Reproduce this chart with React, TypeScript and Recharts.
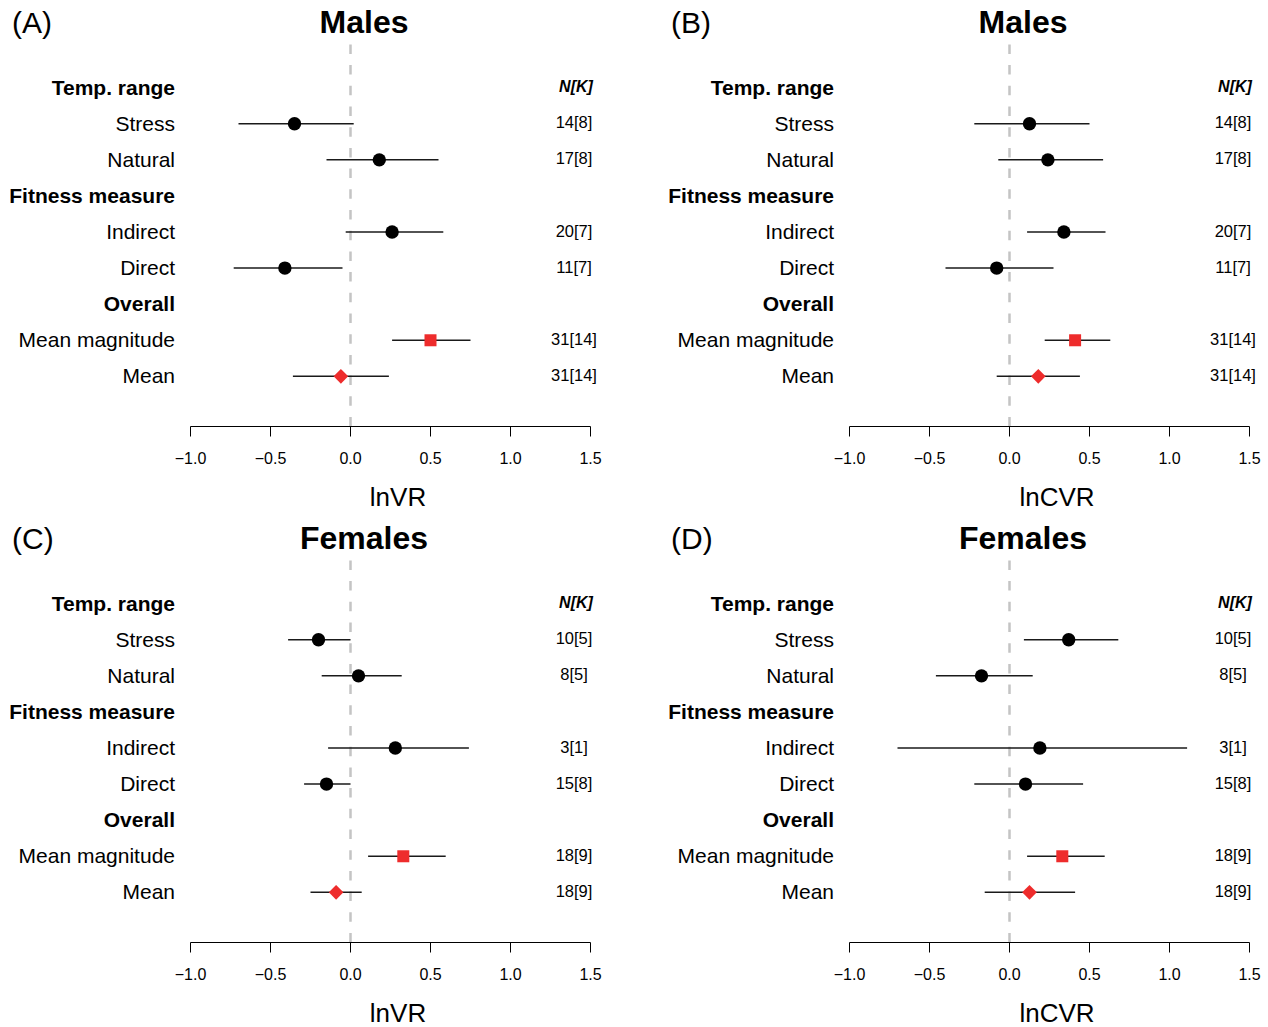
import React from "react";
import {
  ScatterChart,
  Scatter,
  XAxis,
  YAxis,
  ErrorBar,
  ReferenceLine,
  Customized,
} from "recharts";

// row layout shared by every panel
const rowLabels = [
  "Temp. range",
  "Stress",
  "Natural",
  "Fitness measure",
  "Indirect",
  "Direct",
  "Overall",
  "Mean magnitude",
  "Mean",
];
const headerRows = [0, 3, 6];
const estimateRows = [1, 2, 4, 5, 7, 8];
const markerKinds = ["circle", "circle", "circle", "circle", "square", "diamond"];
const xTicks = [-1, -0.5, 0, 0.5, 1, 1.5];

// (A) males lnVR
const malesLnVREst = [-0.35, 0.18, 0.26, -0.41, 0.5, -0.06];
const malesLnVRLow = [-0.7, -0.15, -0.03, -0.73, 0.26, -0.36];
const malesLnVRHigh = [0.02, 0.55, 0.58, -0.05, 0.75, 0.24];
// (B) males lnCVR
const malesLnCVREst = [0.125, 0.24, 0.34, -0.08, 0.41, 0.18];
const malesLnCVRLow = [-0.22, -0.07, 0.11, -0.4, 0.22, -0.08];
const malesLnCVRHigh = [0.5, 0.585, 0.6, 0.275, 0.63, 0.44];
const malesNK = ["14[8]", "17[8]", "20[7]", "11[7]", "31[14]", "31[14]"];
// (C) females lnVR
const femalesLnVREst = [-0.2, 0.05, 0.28, -0.15, 0.33, -0.09];
const femalesLnVRLow = [-0.39, -0.18, -0.14, -0.29, 0.11, -0.25];
const femalesLnVRHigh = [0.0, 0.32, 0.74, 0.0, 0.595, 0.07];
// (D) females lnCVR
const femalesLnCVREst = [0.37, -0.175, 0.19, 0.1, 0.33, 0.125];
const femalesLnCVRLow = [0.09, -0.46, -0.7, -0.22, 0.11, -0.155];
const femalesLnCVRHigh = [0.68, 0.145, 1.11, 0.46, 0.595, 0.41];
const femalesNK = ["10[5]", "8[5]", "3[1]", "15[8]", "18[9]", "18[9]"];

const RED = "#EE2C2C";
const FONT = "'Liberation Sans', Arial, Helvetica, sans-serif";

function buildRows(est: number[], lo: number[], hi: number[]) {
  return est.map((e, i) => ({
    row: estimateRows[i],
    est: e,
    err: [e - lo[i], hi[i] - e],
    kind: markerKinds[i],
  }));
}

const fmtTick = (v: number) =>
  (v < 0 ? "\u2212" : "") + Math.abs(v).toFixed(1);

const Marker = (props: any) => {
  const { cx, cy, payload } = props;
  if (payload.kind === "square") {
    return <rect x={cx - 6} y={cy - 6} width={12} height={12} fill={RED} />;
  }
  if (payload.kind === "diamond") {
    const d = 7.3;
    return (
      <polygon
        points={`${cx},${cy - d} ${cx + d},${cy} ${cx},${cy + d} ${cx - d},${cy}`}
        fill={RED}
      />
    );
  }
  return <circle cx={cx} cy={cy} r={6.7} fill="#000" />;
};

const RowTick = (props: any) => {
  const { y, payload, nk } = props;
  const row = payload.value as number;
  const isHeader = headerRows.includes(row);
  const idx = estimateRows.indexOf(row);
  return (
    <g>
      <text
        x={175}
        y={y + 7}
        textAnchor="end"
        fontSize={21}
        fontWeight={isHeader ? "bold" : "normal"}
        fill="#000"
        fontFamily={FONT}
      >
        {rowLabels[row]}
      </text>
      {row === 0 && (
        <text
          x={576}
          y={y + 4}
          textAnchor="middle"
          fontSize={16}
          fontWeight="bold"
          fontStyle="italic"
          fill="#000"
          fontFamily={FONT}
        >
          N[K]
        </text>
      )}
      {idx >= 0 && (
        <text
          x={574}
          y={y + 4.5}
          textAnchor="middle"
          fontSize={16.5}
          fill="#000"
          fontFamily={FONT}
        >
          {nk[idx]}
        </text>
      )}
    </g>
  );
};

interface PanelProps {
  letter: string;
  title: string;
  xlabel: string;
  est: number[];
  lo: number[];
  hi: number[];
  nk: string[];
  left: number;
  top: number;
}

const Panel: React.FC<PanelProps> = ({ letter, title, xlabel, est, lo, hi, nk, left, top }) => {
  const rows = buildRows(est, lo, hi);
  return (
    <div style={{ position: "absolute", left, top }}>
      <ScatterChart
        width={620}
        height={516}
        margin={{ top: 39, right: 29.5, bottom: 0, left: 0 }}
        style={{ fontFamily: FONT }}
      >
        <XAxis
          type="number"
          dataKey="est"
          domain={[-1, 1.5]}
          ticks={xTicks}
          interval={0}
          tickFormatter={fmtTick}
          tickSize={10}
          tickMargin={16}
          height={89.5}
          axisLine={{ stroke: "#000" }}
          tickLine={{ stroke: "#000" }}
          tick={{ fontSize: 16, fill: "#000" }}
          allowDataOverflow
        />
        <YAxis
          type="number"
          dataKey="row"
          domain={[-1.35, 9.39]}
          reversed
          ticks={[0, 1, 2, 3, 4, 5, 6, 7, 8]}
          interval={0}
          width={190.5}
          axisLine={false}
          tickLine={false}
          tick={(p: any) => <RowTick {...p} nk={nk} />}
          allowDataOverflow
        />
        <ReferenceLine
          x={0}
          stroke="#c4c4c4"
          strokeWidth={2.5}
          strokeDasharray="9.5 11.2"
        />
        <Scatter data={rows} shape={Marker} isAnimationActive={false}>
          <ErrorBar
            dataKey="err"
            direction="x"
            width={0}
            stroke="#1a1a1a"
            strokeWidth={1.5}
          />
        </Scatter>
        <Customized
          component={() => (
            <g fontFamily={FONT} fill="#000">
              <text x={12} y={33} fontSize={30}>
                {letter}
              </text>
              <text x={364} y={33} fontSize={32} fontWeight="bold" textAnchor="middle">
                {title}
              </text>
              <text x={398} y={506} fontSize={26} textAnchor="middle">
                {xlabel}
              </text>
            </g>
          )}
        />
      </ScatterChart>
    </div>
  );
}

export default function App() {
  return (
    <div
      style={{
        position: "absolute",
        left: 0,
        top: 0,
        width: 1268,
        height: 1027,
        overflow: "hidden",
        background: "#fff",
      }}
    >
      <Panel letter="(A)" title="Males" xlabel="lnVR" est={malesLnVREst} lo={malesLnVRLow} hi={malesLnVRHigh} nk={malesNK} left={0} top={0} />
      <Panel letter="(B)" title="Males" xlabel="lnCVR" est={malesLnCVREst} lo={malesLnCVRLow} hi={malesLnCVRHigh} nk={malesNK} left={658.5} top={0} />
      <Panel letter="(C)" title="Females" xlabel="lnVR" est={femalesLnVREst} lo={femalesLnVRLow} hi={femalesLnVRHigh} nk={femalesNK} left={0} top={516} />
      <Panel letter="(D)" title="Females" xlabel="lnCVR" est={femalesLnCVREst} lo={femalesLnCVRLow} hi={femalesLnCVRHigh} nk={femalesNK} left={658.5} top={516} />
    </div>
  );
}
